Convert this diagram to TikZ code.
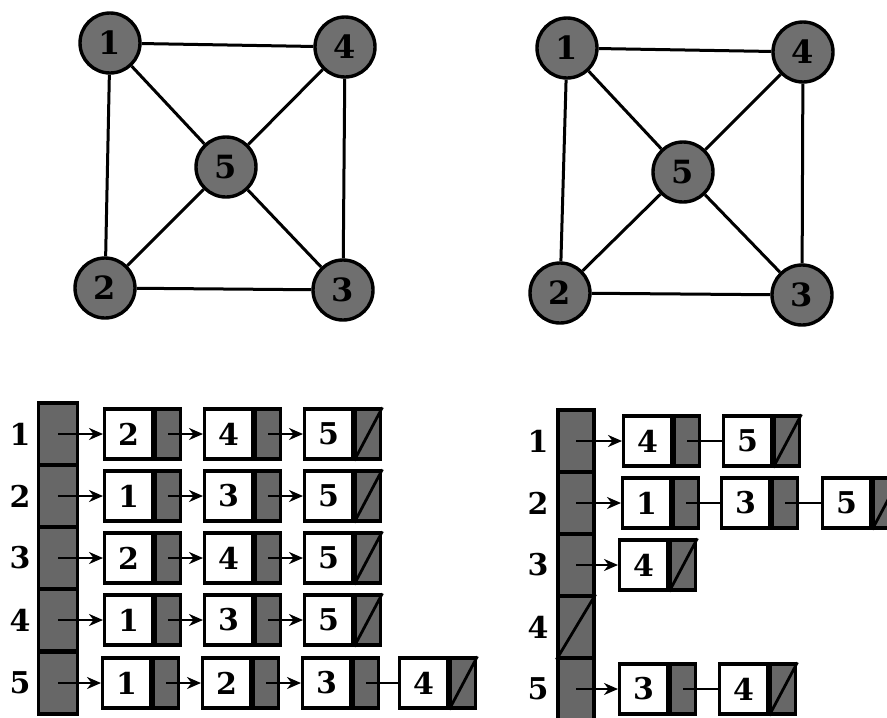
\documentclass[tikz,border=0pt]{standalone}
\usepackage{fontspec}
\setmainfont{DejaVu Serif}
\usetikzlibrary{arrows.meta}
\definecolor{nodegray}{HTML}{6F6F6F}
\definecolor{cellgray}{HTML}{676767}
\tikzset{
  vert/.style={circle, draw, fill=nodegray, line width=3.4pt, minimum size=60pt, inner sep=0pt, font=\bfseries\fontsize{32}{32}\selectfont},
  edge/.style={line width=3pt},
  dcell/.style={rectangle, draw, fill=white, line width=3.2pt, minimum width=48pt, minimum height=50pt, inner sep=0pt, font=\bfseries\fontsize{30}{30}\selectfont},
  pcell/.style={rectangle, draw, fill=cellgray, line width=3.2pt, minimum width=25pt, minimum height=50pt, inner sep=0pt},
  hcell/.style={rectangle, draw, fill=cellgray, line width=3.2pt, minimum height=62pt, inner sep=0pt},
  lab/.style={font=\bfseries\fontsize{30}{30}\selectfont, inner sep=0pt},
  ptr/.style={line width=2.8pt, -{Stealth[length=14pt,width=12pt]}},
  lnk/.style={line width=2.8pt},
  slash/.style={line width=2.8pt}
}
\newcommand{\lcell}[4]{%
  \node[dcell, anchor=west] (#1d) at (#2,#3) {#4};
  \node[pcell, anchor=west] (#1p) at (#1d.east) {};
}
\newcommand{\lnull}[1]{\draw[slash] (#1p.south west) -- (#1p.north east);}
\begin{document}
\begin{tikzpicture}[x=1pt,y=-1pt]
\useasboundingbox (0,0) rectangle (887,718);
\fill[white] (0,0) rectangle (887,718);

% ---------- top-left graph ----------
\node[vert] (L1) at (110,43) {1};
\node[vert] (L4) at (345,47) {4};
\node[vert] (L5) at (226,167) {5};
\node[vert] (L2) at (105,288) {2};
\node[vert] (L3) at (343,290) {3};
\draw[edge] (L1) -- (L4);
\draw[edge] (L1) -- (L5);
\draw[edge] (L1) -- (L2);
\draw[edge] (L4) -- (L5);
\draw[edge] (L4) -- (L3);
\draw[edge] (L5) -- (L2);
\draw[edge] (L5) -- (L3);
\draw[edge] (L2) -- (L3);

% ---------- top-right graph ----------
\node[vert] (R1) at (567,48) {1};
\node[vert] (R4) at (803,52) {4};
\node[vert] (R5) at (683,172) {5};
\node[vert] (R2) at (560,293) {2};
\node[vert] (R3) at (802,295) {3};
\draw[edge] (R1) -- (R4);
\draw[edge] (R1) -- (R5);
\draw[edge] (R1) -- (R2);
\draw[edge] (R4) -- (R5);
\draw[edge] (R4) -- (R3);
\draw[edge] (R5) -- (R2);
\draw[edge] (R5) -- (R3);
\draw[edge] (R2) -- (R3);

% ---------- bottom-left adjacency list ----------
\foreach \i/\y in {1/434,2/496,3/558,4/620,5/683}{
  \node[hcell, minimum width=39pt] (lh\i) at (58,\y) {};
  \node[lab] (ll\i) at (20,\y) {\i};
}
% row 1
\lcell{la1}{103}{434}{2}\lcell{lb1}{203}{434}{4}\lcell{lc1}{303}{434}{5}\lnull{lc1}
\draw[ptr] (lh1.center) -- (la1d.west);
\draw[ptr] (la1p.center) -- (lb1d.west);
\draw[ptr] (lb1p.center) -- (lc1d.west);
% row 2
\lcell{la2}{103}{496}{1}\lcell{lb2}{203}{496}{3}\lcell{lc2}{303}{496}{5}\lnull{lc2}
\draw[ptr] (lh2.center) -- (la2d.west);
\draw[ptr] (la2p.center) -- (lb2d.west);
\draw[ptr] (lb2p.center) -- (lc2d.west);
% row 3
\lcell{la3}{103}{558}{2}\lcell{lb3}{203}{558}{4}\lcell{lc3}{303}{558}{5}\lnull{lc3}
\draw[ptr] (lh3.center) -- (la3d.west);
\draw[ptr] (la3p.center) -- (lb3d.west);
\draw[ptr] (lb3p.center) -- (lc3d.west);
% row 4
\lcell{la4}{103}{620}{1}\lcell{lb4}{203}{620}{3}\lcell{lc4}{303}{620}{5}\lnull{lc4}
\draw[ptr] (lh4.center) -- (la4d.west);
\draw[ptr] (la4p.center) -- (lb4d.west);
\draw[ptr] (lb4p.center) -- (lc4d.west);
% row 5
\lcell{la5}{101}{683}{1}\lcell{lb5}{201}{683}{2}\lcell{lc5}{301}{683}{3}\lcell{ld5}{398}{683}{4}\lnull{ld5}
\draw[ptr] (lh5.center) -- (la5d.west);
\draw[ptr] (la5p.center) -- (lb5d.west);
\draw[ptr] (lb5p.center) -- (lc5d.west);
\draw[lnk] (lc5p.center) -- (ld5d.west);

% ---------- bottom-right adjacency list ----------
\foreach \i/\y in {1/441,2/503,3/565,4/627,5/689}{
  \node[hcell, minimum width=36pt] (rh\i) at (576,\y) {};
  \node[lab] (rl\i) at (538,\y) {\i};
}
\draw[slash] (rh4.south west) -- (rh4.north east);
% row 1
\lcell{ra1}{622}{441}{4}\lcell{rb1}{722}{441}{5}\lnull{rb1}
\draw[ptr] (rh1.center) -- (ra1d.west);
\draw[lnk] (ra1p.center) -- (rb1d.west);
% row 2
\lcell{ra2}{621}{503}{1}\lcell{rb2}{720}{503}{3}\lcell{rc2}{821}{503}{5}\lnull{rc2}
\draw[ptr] (rh2.center) -- (ra2d.west);
\draw[lnk] (ra2p.center) -- (rb2d.west);
\draw[lnk] (rb2p.center) -- (rc2d.west);
% row 3
\lcell{ra3}{618}{565}{4}\lnull{ra3}
\draw[ptr] (rh3.center) -- (ra3d.west);
% row 5
\lcell{ra5}{618}{689}{3}\lcell{rb5}{718}{689}{4}\lnull{rb5}
\draw[ptr] (rh5.center) -- (ra5d.west);
\draw[lnk] (ra5p.center) -- (rb5d.west);
\end{tikzpicture}
\end{document}
